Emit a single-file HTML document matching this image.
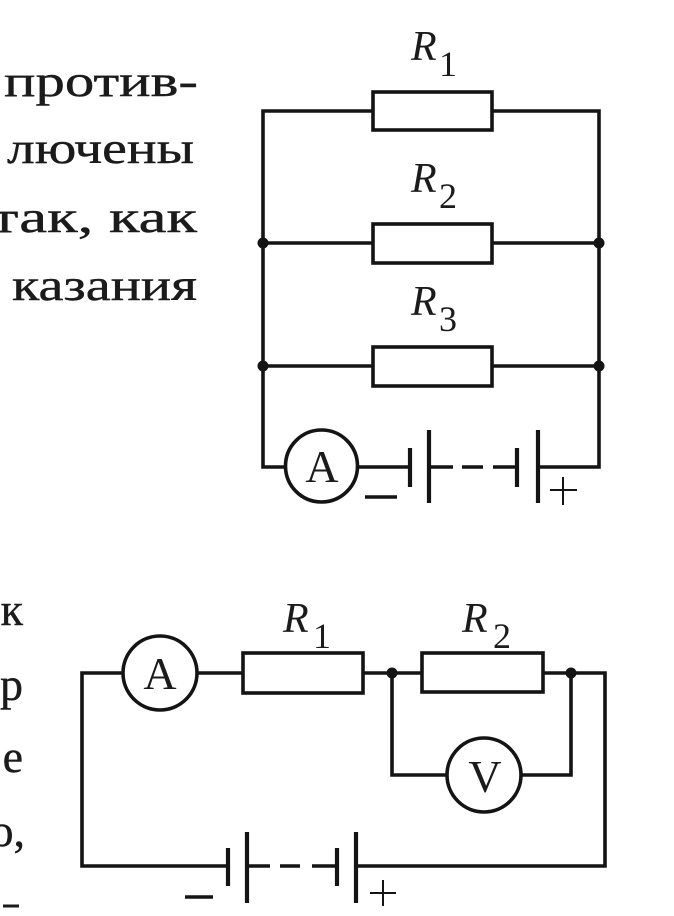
<!DOCTYPE html>
<html>
<head>
<meta charset="utf-8">
<style>
  html, body { margin: 0; padding: 0; background: #fff; }
  body { width: 674px; height: 916px; overflow: hidden; }
  svg { display: block; }
  .t { font-family: "Liberation Serif", "DejaVu Serif", serif; fill: #1b1b1b; }
  .b { stroke: #1b1b1b; stroke-width: 0.4; }
  .it { font-family: "Liberation Serif", "DejaVu Serif", serif; font-style: italic; fill: #1b1b1b; }
</style>
</head>
<body>
<svg width="674" height="916" viewBox="0 0 674 916" xmlns="http://www.w3.org/2000/svg">
  <rect x="0" y="0" width="674" height="916" fill="#ffffff"/>

  <!-- Top-left text -->
  <text class="t b" x="198" y="96" font-size="44" text-anchor="end" textLength="194" lengthAdjust="spacingAndGlyphs">против-</text>
  <text class="t b" x="194" y="163" font-size="44" text-anchor="end" textLength="187" lengthAdjust="spacingAndGlyphs">лючены</text>
  <text class="t b" x="197" y="232" font-size="44" text-anchor="end" textLength="206" lengthAdjust="spacingAndGlyphs">так,  как</text>
  <text class="t b" x="197" y="300" font-size="44" text-anchor="end" textLength="185" lengthAdjust="spacingAndGlyphs">казания</text>

  <!-- Bottom-left text fragments -->
  <text class="t b" x="23" y="625" font-size="46" text-anchor="end">к</text>
  <text class="t b" x="23" y="700" font-size="46" text-anchor="end">р</text>
  <text class="t b" x="23" y="772" font-size="46" text-anchor="end">е</text>
  <text class="t b" x="25" y="846" font-size="46" text-anchor="end">о,</text>
  <line x1="3" y1="906" x2="19" y2="906" stroke="#1b1b1b" stroke-width="3"/>

  <!-- ===== Top circuit ===== -->
  <g stroke="#141414" stroke-width="3.6" fill="none" stroke-linejoin="miter" stroke-linecap="butt">
    <polyline points="286,467 263,467 263,111 373,111"/>
    <polyline points="492,111 599,111 599,467 538,467"/>
    <line x1="263" y1="243" x2="373" y2="243"/>
    <line x1="492" y1="243" x2="599" y2="243"/>
    <line x1="263" y1="366" x2="373" y2="366"/>
    <line x1="492" y1="366" x2="599" y2="366"/>
    <rect x="373" y="92" width="119" height="38" fill="#fff"/>
    <rect x="373" y="224" width="119" height="39" fill="#fff"/>
    <rect x="373" y="347" width="119" height="39" fill="#fff"/>
    <circle cx="321.5" cy="466" r="36" fill="#fff"/>
    <line x1="358" y1="467" x2="410" y2="467"/>
    <line x1="429" y1="467" x2="453" y2="467"/>
    <line x1="462" y1="467" x2="483" y2="467"/>
    <line x1="493" y1="467" x2="517" y2="467"/>
  </g>
  <g stroke="#141414" stroke-width="4.2" stroke-linecap="butt">
    <line x1="410" y1="448" x2="410" y2="487"/>
    <line x1="429" y1="430" x2="429" y2="503"/>
    <line x1="517" y1="448" x2="517" y2="487"/>
    <line x1="538" y1="430" x2="538" y2="503"/>
    <line x1="365" y1="497" x2="397" y2="497" stroke-width="3.5"/>
  </g>
  <g stroke="#141414" stroke-width="2">
    <line x1="550" y1="490" x2="577" y2="490"/>
    <line x1="563" y1="477" x2="563" y2="505"/>
  </g>
  <g fill="#141414">
    <circle cx="263" cy="243" r="5.5"/>
    <circle cx="599" cy="243" r="5.5"/>
    <circle cx="263" cy="366" r="5.5"/>
    <circle cx="599" cy="366" r="5.5"/>
  </g>
  <text class="t" x="322" y="482" font-size="46" text-anchor="middle">A</text>

  <text class="it" x="411" y="60" font-size="42">R</text>
  <text class="t" x="439" y="76" font-size="36">1</text>
  <text class="it" x="411" y="192" font-size="42">R</text>
  <text class="t" x="439" y="208" font-size="36">2</text>
  <text class="it" x="411" y="315" font-size="42">R</text>
  <text class="t" x="439" y="331" font-size="36">3</text>

  <!-- ===== Bottom circuit ===== -->
  <g stroke="#141414" stroke-width="3.6" fill="none" stroke-linejoin="miter" stroke-linecap="butt">
    <polyline points="123,673 82,673 82,866 228,866"/>
    <line x1="197" y1="673" x2="243" y2="673"/>
    <line x1="363" y1="673" x2="422" y2="673"/>
    <polyline points="543,673 605,673 605,866 356,866"/>
    <polyline points="447,775 392,775 392,673"/>
    <polyline points="521,775 571,775 571,673"/>
    <rect x="243" y="653" width="120" height="40" fill="#fff"/>
    <rect x="422" y="653" width="121" height="39" fill="#fff"/>
    <circle cx="160" cy="673" r="37" fill="#fff"/>
    <circle cx="484" cy="775" r="37" fill="#fff"/>
    <line x1="247" y1="866" x2="270" y2="866"/>
    <line x1="280" y1="866" x2="300" y2="866"/>
    <line x1="312" y1="866" x2="337" y2="866"/>
  </g>
  <g stroke="#141414" stroke-width="4.2" stroke-linecap="butt">
    <line x1="228" y1="848" x2="228" y2="886"/>
    <line x1="247" y1="832" x2="247" y2="903"/>
    <line x1="337" y1="848" x2="337" y2="886"/>
    <line x1="356" y1="832" x2="356" y2="903"/>
    <line x1="185" y1="897" x2="213" y2="897" stroke-width="3.5"/>
  </g>
  <g stroke="#141414" stroke-width="2">
    <line x1="370" y1="893" x2="396" y2="893"/>
    <line x1="383" y1="880" x2="383" y2="906"/>
  </g>
  <g fill="#141414">
    <circle cx="392" cy="673" r="5.5"/>
    <circle cx="571" cy="673" r="5.5"/>
  </g>
  <text class="t" x="160" y="689" font-size="46" text-anchor="middle">A</text>
  <text class="t" x="485" y="792" font-size="46" text-anchor="middle">V</text>

  <text class="it" x="283" y="632" font-size="42">R</text>
  <text class="t" x="313" y="648" font-size="36">1</text>
  <text class="it" x="462" y="632" font-size="42">R</text>
  <text class="t" x="493" y="648" font-size="36">2</text>
</svg>
</body>
</html>
